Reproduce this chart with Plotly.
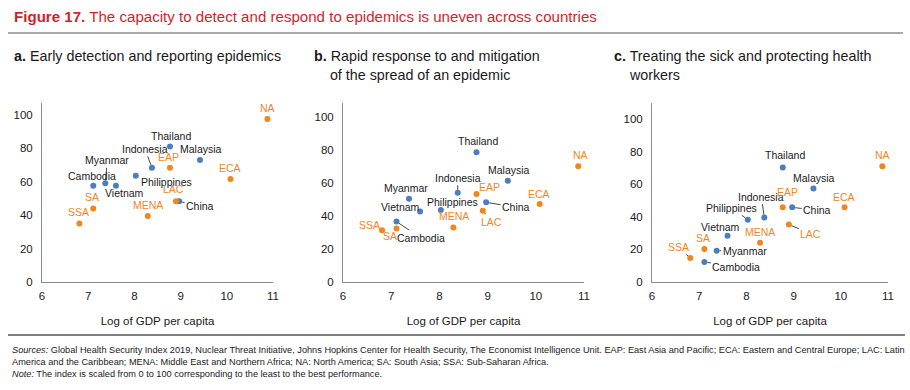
import plotly.graph_objects as go

FONT = "Liberation Sans"
BLUE = "#4a7ebf"
ORANGE = "#f0861e"
TEXT = "#1a1a1a"
RED = "#d41f2b"

names = ["Thailand", "Malaysia", "Indonesia", "Philippines", "Myanmar", "Cambodia", "Vietnam", "China",
         "EAP", "ECA", "NA", "LAC", "MENA", "SA", "SSA"]
is_region = [False]*8 + [True]*7

log_gdp = [8.77, 9.42, 8.38, 8.03, 7.37, 7.11, 7.6, 8.97,
           8.77, 10.08, 10.88, 8.9, 8.29, 7.11, 6.81]

detect = [81, 73, 68.3, 63.5, 59, 57.6, 57.6, 48.2,
          68.3, 61.5, 97.4, 48.2, 39.4, 44, 35]
respond = [78.6, 61.4, 54.1, 43.6, 50.5, 36.6, 42.8, 48.3,
           53.3, 47.3, 70.1, 43.2, 33.1, 32.5, 31.3]
treat = [70.3, 57.3, 39.5, 38.2, 19.2, 12.3, 28.4, 45.8,
         45.8, 45.8, 71, 35.2, 24.1, 20.2, 14.7]

x_ticks = [6, 7, 8, 9, 10, 11]
y_ticks = [0, 20, 40, 60, 80, 100]

# label placement: name -> (dx px, dy px (down positive), leader line?)
labels_a = {
    "NA": (0, -11, False), "Thailand": (1, -11, False), "Malaysia": (1, -11, False),
    "Indonesia": (-7, -19, True), "EAP": (-1, -11, False), "ECA": (-1, -11, False),
    "Philippines": (31, 6, False), "Myanmar": (2, -23, True), "Cambodia": (-1, -10, False),
    "Vietnam": (9, 7, False), "SA": (-1, -11, False), "SSA": (-1, -11, False),
    "MENA": (0, -11, False), "LAC": (-2, -12, False), "China": (21, 5, True),
}
labels_b = {
    "Thailand": (1, -11, False), "NA": (2, -11, False), "Malaysia": (1, -11, False),
    "Indonesia": (0, -15, True), "EAP": (13, -7, False), "Myanmar": (-3, -11, False),
    "Philippines": (12, -8, False), "China": (30, 5, True), "ECA": (-1, -10, False),
    "Vietnam": (-20, -4, True), "LAC": (9, 11, True), "MENA": (1, -11, False),
    "Cambodia": (24, 16, True), "SA": (-7, 8, False), "SSA": (-13, -5, False),
}
labels_c = {
    "Thailand": (2, -12, False), "NA": (0, -11, False), "Malaysia": (1, -11, False),
    "EAP": (5, -15, False), "Indonesia": (-3, -21, True), "Philippines": (-16, -12, True),
    "China": (25, 3, True), "ECA": (-1, -10, False), "LAC": (22, 9, True),
    "Vietnam": (-7, -9, False), "MENA": (0, -11, False), "SA": (-1, -11, False),
    "Myanmar": (28, 0, True), "SSA": (-12, -11, True), "Cambodia": (32, 5, True),
}

panels = [
    (detect, labels_a, [42, 273], [282, 103], 107.0),
    (respond, labels_b, [343, 584], [282, 103], 108.5),
    (treat, labels_c, [652, 888], [282, 103], 109.8),
]
subtitles = [
    (12, "<b>a.</b> Early detection and reporting epidemics"),
    (312, "<b>b.</b> Rapid response to and mitigation<br>    of the spread of an epidemic"),
    (612, "<b>c.</b> Treating the sick and protecting health<br>    workers"),
]

W, H = 910, 390
LBL = 10.5
fig = go.Figure()
annotations = []
shapes = []

for i, (vals, labs, xpx, ypx, ymax) in enumerate(panels):
    n = "" if i == 0 else str(i + 1)
    xa, ya = "x" + n, "y" + n
    for reg, col in [(False, BLUE), (True, ORANGE)]:
        xs = [x for x, r in zip(log_gdp, is_region) if r == reg]
        ys = [v for v, r in zip(vals, is_region) if r == reg]
        fig.add_trace(go.Scatter(x=xs, y=ys, mode="markers", xaxis=xa, yaxis=ya,
                                 marker=dict(color=col, size=6), showlegend=False,
                                 hoverinfo="skip"))
    for name, x, v, reg in zip(names, log_gdp, vals, is_region):
        dx, dy, leader = labs[name]
        col = ORANGE if reg else TEXT
        if leader:
            annotations.append(dict(x=x, y=v, xref=xa, yref=ya, text=name, showarrow=True,
                                    ax=dx, ay=dy, arrowhead=0, arrowwidth=0.9, arrowcolor="#333",
                                    standoff=3, font=dict(family=FONT, size=LBL, color=col)))
        else:
            annotations.append(dict(x=x, y=v, xref=xa, yref=ya, text=name, showarrow=False,
                                    xshift=dx, yshift=-dy, font=dict(family=FONT, size=LBL, color=col)))
    axis_common = dict(showgrid=False, zeroline=False, showline=True, linecolor="#8c8c8c",
                       linewidth=1, ticks="", automargin=False,
                       tickfont=dict(family=FONT, size=11.5, color=TEXT))
    fig.update_layout(**{
        "xaxis" + n: dict(domain=[xpx[0] / W, xpx[1] / W], range=[6, 11], tickvals=x_ticks,
                          anchor=ya, ticklabelstandoff=3,
                          title=dict(text="Log of GDP per capita", standoff=16,
                                     font=dict(family=FONT, size=11.5, color=TEXT)),
                          **axis_common),
        "yaxis" + n: dict(domain=[(H - ypx[0]) / H, (H - ypx[1]) / H], range=[0, ymax],
                          tickvals=y_ticks, anchor=xa, ticklabelstandoff=6, **axis_common),
    })

for x0, t in subtitles:
    annotations.append(dict(x=x0 / W, y=(H - 46) / H, xref="paper", yref="paper", text=t,
                            showarrow=False, xanchor="left", yanchor="top", align="left",
                            font=dict(family=FONT, size=14.3, color=TEXT)))

annotations.append(dict(x=12 / W, y=(H - 6) / H, xref="paper", yref="paper",
                        text="<b>Figure 17.</b> The capacity to detect and respond to epidemics is uneven across countries",
                        showarrow=False, xanchor="left", yanchor="top",
                        font=dict(family=FONT, size=15.1, color=RED)))

src = ("<i>Sources:</i> Global Health Security Index 2019, Nuclear Threat Initiative, Johns Hopkins Center for Health Security, "
       "The Economist Intelligence Unit. EAP: East Asia and Pacific; ECA: Eastern and Central Europe; LAC: Latin<br>"
       "America and the Caribbean; MENA: Middle East and Northern Africa; NA: North America; SA: South Asia; SSA: Sub-Saharan Africa.<br>"
       "<i>Note:</i> The index is scaled from 0 to 100 corresponding to the least to the best performance.")
annotations.append(dict(x=10 / W, y=(H - 343) / H, xref="paper", yref="paper", text=src,
                        showarrow=False, xanchor="left", yanchor="top", align="left",
                        font=dict(family=FONT, size=9.2, color=TEXT)))

shapes.append(dict(type="line", xref="paper", yref="paper", x0=8 / W, x1=903 / W,
                   y0=(H - 33) / H, y1=(H - 33) / H, line=dict(color="#555", width=1)))
shapes.append(dict(type="line", xref="paper", yref="paper", x0=8 / W, x1=905 / W,
                   y0=(H - 335) / H, y1=(H - 335) / H, line=dict(color="#555", width=1.5)))

fig.update_layout(width=W, height=H, margin=dict(l=0, r=0, t=0, b=0, autoexpand=False),
                  paper_bgcolor="white", plot_bgcolor="white",
                  annotations=annotations, shapes=shapes, font=dict(family=FONT))

fig.write_html("out.html", config={"displayModeBar": False},
               post_script="document.body.style.margin='0';document.body.style.overflow='hidden';")
